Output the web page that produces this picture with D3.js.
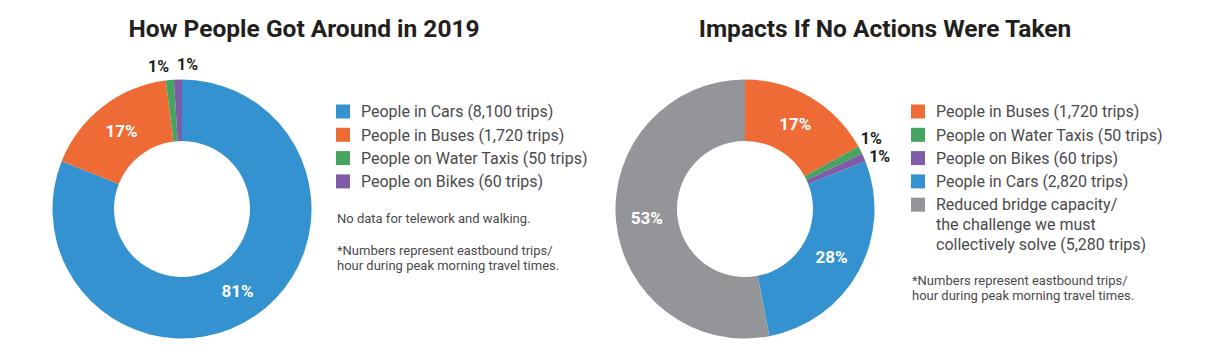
<!DOCTYPE html>
<html>
<head>
<meta charset="utf-8">
<script src="https://cdn.jsdelivr.net/npm/d3@7"></script>
<style>
  html, body { margin: 0; padding: 0; background: #fff; }
  svg { display: block; font-family: Roboto, "Open Sans", sans-serif; }
</style>
</head>
<body>
<svg id="chart" width="1208" height="356"></svg>
<script>
// ---------- data ----------
const leftTitle = "How People Got Around in 2019";
const leftCategories = ["People in Cars", "People in Buses", "People on Water Taxis", "People on Bikes"];
const leftTrips = [8100, 1720, 50, 60];
const leftPercents = [81, 17, 1, 1];
const leftNotes = [["No data for telework and walking."],
                   ["*Numbers represent eastbound trips/", "hour during peak morning travel times."]];

const rightTitle = "Impacts If No Actions Were Taken";
const rightCategories = ["People in Buses", "People on Water Taxis", "People on Bikes", "People in Cars",
  "Reduced bridge capacity/\nthe challenge we must\ncollectively solve"];
const rightTrips = [1720, 50, 60, 2820, 5280];
const rightPercents = [17, 1, 1, 28, 53];
const rightNotes = [["*Numbers represent eastbound trips/", "hour during peak morning travel times."]];

const categoryColors = {
  "People in Cars": "#3592d0",
  "People in Buses": "#ef6b36",
  "People on Water Taxis": "#45a45f",
  "People on Bikes": "#7e5ca8",
  "Reduced bridge capacity/\nthe challenge we must\ncollectively solve": "#949598"
};

// ---------- drawing ----------
const svg = d3.select("#chart");
const fmt = d3.format(",");
const R = 129.5, r = 68;

function donut(cfg) {
  const { cx, cy, categories, trips, percents, title, titleX, legendX, legendY, notes, notesY } = cfg;
  const data = categories.map((c, i) => ({ cat: c, trips: trips[i], pct: percents[i] }));
  const pie = d3.pie().sort(null).value(d => d.pct);
  const arcs = pie(data);
  const arc = d3.arc().innerRadius(r).outerRadius(R);
  const g = svg.append("g").attr("transform", `translate(${cx},${cy})`);

  g.selectAll("path.slice").data(arcs).join("path")
    .attr("class", "slice")
    .attr("d", arc)
    .attr("fill", d => categoryColors[d.data.cat]);

  // inside labels for large slices
  const big = arcs.filter(d => d.data.pct >= 5);
  g.selectAll("text.in").data(big).join("text")
    .attr("class", "in")
    .attr("transform", d => `translate(${arc.centroid(d)})`)
    .attr("text-anchor", "middle")
    .attr("dy", "0.36em")
    .attr("fill", "#fff")
    .attr("font-size", 17)
    .attr("font-weight", 700)
    .text(d => d.data.pct + "%");

  // outside labels for small slices, spread along the arc
  const small = arcs.filter(d => d.data.pct < 5);
  if (small.length) {
    const mid = d => (d.startAngle + d.endAngle) / 2;
    const mean = d3.mean(small, mid);
    const lr = R + 15;
    const s = Math.min(29 / Math.abs(Math.cos(mean) || 1e-6), 18 / Math.abs(Math.sin(mean) || 1e-6));
    const sep = s / lr;
    g.selectAll("text.out").data(small).join("text")
      .attr("class", "out")
      .attr("transform", (d, i) => {
        const a = mean + (i - (small.length - 1) / 2) * sep;
        return `translate(${lr * Math.sin(a)},${-lr * Math.cos(a)})`;
      })
      .attr("text-anchor", "middle")
      .attr("dy", "0.36em")
      .attr("fill", "#231f20")
      .attr("font-size", 16)
      .attr("font-weight", 700)
      .text(d => d.data.pct + "%");
  }

  // title
  svg.append("text")
    .attr("x", titleX).attr("y", 37)
    .attr("text-anchor", "middle")
    .attr("fill", "#231f20")
    .attr("font-size", 24.5)
    .attr("font-weight", 700)
    .text(title);

  // legend
  const rowH = 23.3, lineH = 20;
  let y = legendY;
  const lg = svg.append("g");
  data.forEach(d => {
    const lines = d.cat.split("\n");
    lines[lines.length - 1] += ` (${fmt(d.trips)} trips)`;
    lg.append("rect")
      .attr("x", legendX).attr("y", y - 7)
      .attr("width", 14).attr("height", 14)
      .attr("fill", categoryColors[d.cat]);
    const t = lg.append("text")
      .attr("x", legendX + 25).attr("y", y)
      .attr("fill", "#4a4a4c")
      .attr("font-size", 16);
    lines.forEach((ln, i) => {
      t.append("tspan").attr("x", legendX + 25).attr("dy", i === 0 ? "0.36em" : lineH).text(ln);
    });
    y += rowH + (lines.length - 1) * lineH;
  });

  // notes
  let ny = notesY;
  notes.forEach(block => {
    block.forEach(ln => {
      svg.append("text")
        .attr("x", legendX + 1).attr("y", ny)
        .attr("dy", "0.36em")
        .attr("fill", "#4a4a4c")
        .attr("font-size", 13)
        .text(ln);
      ny += 15;
    });
    ny += 17;
  });
}

donut({
  cx: 182, cy: 209,
  categories: leftCategories, trips: leftTrips, percents: leftPercents,
  title: leftTitle, titleX: 304,
  legendX: 336, legendY: 111.5,
  notes: leftNotes, notesY: 218
});

donut({
  cx: 745, cy: 209,
  categories: rightCategories, trips: rightTrips, percents: rightPercents,
  title: rightTitle, titleX: 885,
  legendX: 911, legendY: 111.5,
  notes: rightNotes, notesY: 280
});
</script>
</body>
</html>
